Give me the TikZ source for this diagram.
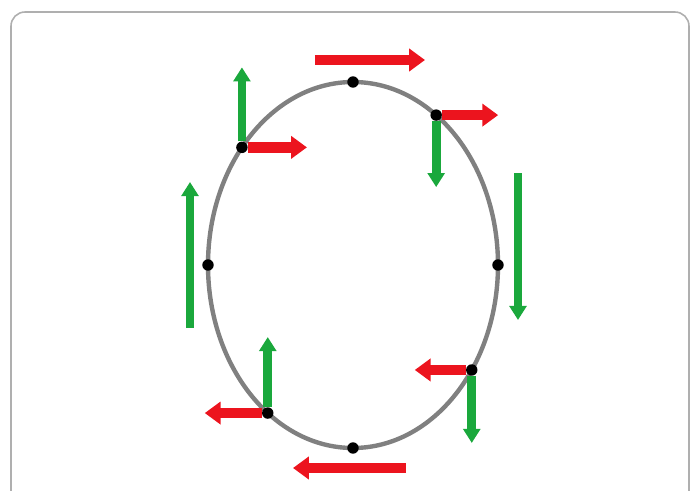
\documentclass[tikz,border=0pt]{standalone}
\usetikzlibrary{arrows.meta}
\definecolor{forcered}{RGB}{236,20,30}
\definecolor{forcegreen}{RGB}{26,168,60}
\definecolor{framegray}{RGB}{175,175,175}
\begin{document}
\begin{tikzpicture}[
    x=0.02cm, y=0.02cm,
    dot/.style={circle, fill=black, inner sep=0pt, minimum size=6.5pt},
    redarrow/.style={line width=6pt, color=forcered, -{Triangle[width=12.5pt, length=9pt]}},
    greenarrow/.style={line width=5pt, color=forcegreen, -{Triangle[width=9.5pt, length=8pt]}}
]
    \useasboundingbox (-353,-226) rectangle (338,265);
    \clip (-353,-226) rectangle (338,265);

    % ==========================
    % Frame
    % ==========================
    \draw[framegray, line width=0.9pt, rounded corners=8]
        (-342,-240) -- (-342,253) -- (336,253) -- (336,-240);

    % ==========================
    % The ellipse and its points
    % ==========================
    \draw[line width=2.5pt, black!50] (0,0) ellipse [x radius=145, y radius=183];

    \foreach \i/\angle in {1/90, 2/55, 3/140, 4/180, 5/0, 6/-35, 7/234, 8/270}
    {
        \node[dot] (D\i) at (\angle:145 and 183) {};
    }

    % Arrows that start at a point
    \foreach \i/\dx in {2/62, 3/65, 6/-57, 7/-63}
    {
        \path (D\i.center) ++(\dx,0) coordinate (R\i);
        \draw[redarrow] (D\i) -- (R\i);
    }
    \foreach \i/\dy in {2/-72, 3/80, 6/-73, 7/76}
    {
        \path (D\i.center) ++(0,\dy) coordinate (G\i);
        \draw[greenarrow] (D\i) -- (G\i);
    }

    % Arrows set beside a point
    \foreach \i/\sx/\sy/\ex/\ey/\kind in {
        1/-38/22/72/22/redarrow,
        8/53/-20/-60/-20/redarrow,
        4/-18/-63/-18/83/greenarrow,
        5/20/92/20/-55/greenarrow}
    {
        \path (D\i.center) ++(\sx,\sy) coordinate (A\i);
        \path (D\i.center) ++(\ex,\ey) coordinate (B\i);
        \draw[\kind] (A\i) -- (B\i);
    }

\end{tikzpicture}
\end{document}
